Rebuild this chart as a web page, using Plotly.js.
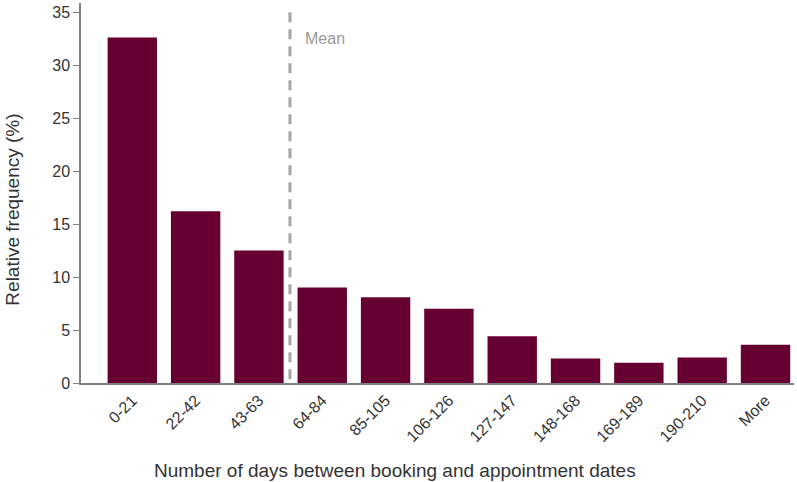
<!DOCTYPE html>
<html>
<head>
<meta charset="utf-8">
<script src="https://cdn.plot.ly/plotly-3.0.1.min.js"></script>
<style>body{margin:0;background:#fff}#graph{width:797px;height:482px}</style>
</head>
<body>
<div id="graph"></div>
<script>
// day bins and their share of appointments
var bins = ['0-21', '22-42', '43-63', '64-84', '85-105', '106-126', '127-147', '148-168', '169-189', '190-210', 'More'];
var freq = [32.6, 16.2, 12.5, 9.0, 8.1, 7.0, 4.4, 2.3, 1.9, 2.4, 3.6];
var meanPos = 2.49; // in category units, between 43-63 and 64-84

var data = [
    {
        type: 'bar',
        x: bins,
        y: freq,
        marker: {color: '#660030'},
        hoverinfo: 'x+y'
    }
];

var layout = {
    width: 797,
    height: 482,
    margin: {l: 81, r: 3, t: 3, b: 99},
    paper_bgcolor: '#fff',
    plot_bgcolor: '#fff',
    showlegend: false,
    bargap: 0.22,
    font: {family: 'Liberation Sans, Arial, sans-serif', color: '#333'},
    xaxis: {
        type: 'category',
        range: [-0.81, 10.45],
        tickangle: -45,
        tickfont: {size: 16, color: '#333'},
        showline: true,
        linecolor: '#808080',
        linewidth: 1.5,
        ticks: '',
        showgrid: false,
        zeroline: false,
        automargin: false
    },
    yaxis: {
        range: [0, 35.85],
        tickvals: [0, 5, 10, 15, 20, 25, 30, 35],
        tickfont: {size: 16, color: '#333'},
        ticks: 'outside',
        ticklen: 6,
        tickcolor: '#808080',
        showline: true,
        linecolor: '#808080',
        linewidth: 1.5,
        showgrid: false,
        zeroline: false,
        automargin: false
    },
    shapes: [
        {
            type: 'line',
            xref: 'x', yref: 'paper',
            x0: meanPos, x1: meanPos, y0: 0.01, y1: 0.99,
            line: {color: '#a6a6a6', width: 3, dash: '10px,7px'}
        }
    ],
    annotations: [
        {
            xref: 'x', yref: 'y',
            x: meanPos + 0.2, y: 32.5,
            text: 'Mean',
            showarrow: false,
            xanchor: 'left',
            font: {size: 16, color: '#999'}
        },
        // axis titles placed as in the source figure (centred on the page, not the plot)
        {
            xref: 'paper', yref: 'paper',
            x: 0.44, y: -0.229,
            text: 'Number of days between booking and appointment dates',
            showarrow: false,
            xanchor: 'center', yanchor: 'middle',
            font: {size: 19, color: '#333'}
        },
        {
            xref: 'paper', yref: 'paper',
            x: -0.096, y: 0.455,
            text: 'Relative frequency (%)',
            textangle: -90,
            showarrow: false,
            borderpad: 0,
            xanchor: 'center', yanchor: 'middle',
            font: {size: 19, color: '#333'}
        }
    ]
};

Plotly.newPlot('graph', data, layout, {displayModeBar: false});
</script>
</body>
</html>
